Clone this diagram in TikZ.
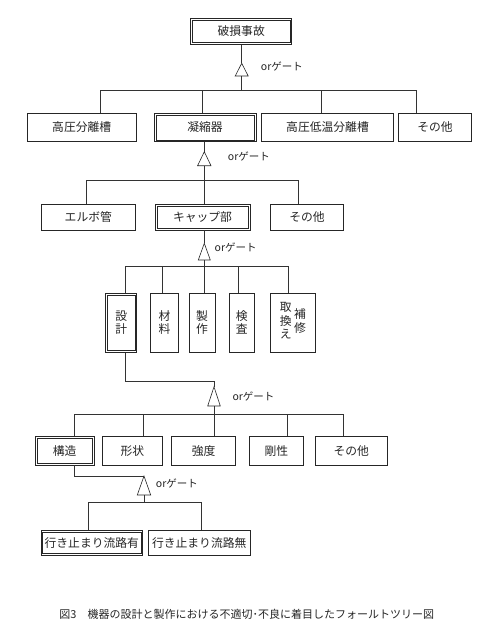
\documentclass[tikz,border=0pt]{standalone}
\usepackage{fontspec}
\setmainfont{Noto Sans CJK JP}
\tikzset{
  box/.style={draw=black!85, line width=0.6pt, fill=white, inner sep=0pt,
    font=\fontsize{11.8}{13}\selectfont, text=black!85, align=center},
  dbox/.style={box, line width=0.8pt},
  link/.style={draw=black!80, line width=0.6pt},
  innerline/.style={draw=black!85, line width=0.6pt},
  gatestyle/.style={draw=black!85, line width=0.6pt, fill=white},
  gatelabel/.style={anchor=west, inner sep=0pt, font=\fontsize{10.5}{12}\selectfont, text=black!85},
}
\newcommand{\orgate}[5]{%
  \coordinate (#1a) at (#2,#3);
  \coordinate (#1b) at (#2,#4);
  \draw[gatestyle] (#1a) -- ([xshift=-#5pt]#1b) -- ([xshift=#5pt]#1b) -- cycle;
}
\newcommand{\innerframe}[1]{%
  \draw[innerline] ([shift={(2.2pt,-2.2pt)}]#1.north west) rectangle ([shift={(-2.2pt,2.2pt)}]#1.south east);
}
\begin{document}
\begin{tikzpicture}[x=1pt,y=-1pt]
\useasboundingbox (0,0) rectangle (495,637);

% level 1
\node[dbox, minimum width=101, minimum height=26] (top) at (241.2,31.3) {破損事故};
\innerframe{top}
\orgate{g1}{241.7}{63.3}{76}{6.5}
\node[gatelabel] (g1l) at (260.7,66) {orゲート};
\coordinate (bus1) at (241.7,90.7);
\draw[link] (top.south -| g1a) -- (g1a);
\draw[link] (g1b) -- (bus1);

% level 2
\node[box, minimum width=108.7, minimum height=28.4] (hb1) at (81.7,127.5) {高圧分離槽};
\node[dbox, minimum width=102, minimum height=28.4] (cond) at (205,127.5) {凝縮器};
\innerframe{cond}
\node[box, minimum width=131.6, minimum height=28.4] (hb2) at (327.5,127.5) {高圧低温分離槽};
\node[box, minimum width=73.4, minimum height=28.4] (oth1) at (435,127.5) {その他};
\draw[link] ([xshift=18.3pt]hb1.north) |- (bus1);
\draw[link] ([xshift=-2.3pt]cond.north) |- (bus1);
\draw[link] ([xshift=-6.5pt]hb2.north) |- (bus1);
\draw[link] ([xshift=-19pt]oth1.north) |- (bus1);

\orgate{g2}{204.3}{151.7}{165.7}{6.7}
\node[gatelabel] (g2l) at (227.7,156.7) {orゲート};
\coordinate (bus2) at (204.3,180);
\draw[link] (cond.south -| g2a) -- (g2a);
\draw[link] (g2b) -- (bus2);

% level 3
\node[box, minimum width=93.3, minimum height=26] (elbow) at (88.3,217) {エルボ管};
\node[dbox, minimum width=95, minimum height=26] (cap) at (202.5,217) {キャップ部};
\innerframe{cap}
\node[box, minimum width=72.6, minimum height=26] (oth2) at (307,217) {その他};
\draw[link] ([xshift=-1.6pt]elbow.north) |- (bus2);
\draw[link] ([xshift=1.8pt]cap.north) |- (bus2);
\draw[link] ([xshift=-8.7pt]oth2.north) |- (bus2);

\orgate{g3}{204.3}{243.3}{260}{6}
\node[gatelabel] (g3l) at (214.5,247.3) {orゲート};
\coordinate (bus3) at (204.3,266);
\draw[link] (cap.south -| g3a) -- (g3a);
\draw[link] (g3b) -- (bus3);

% level 4
\node[dbox, minimum width=31, minimum height=59] (sekkei) at (121.2,322.8) {設\\計};
\innerframe{sekkei}
\node[box, minimum width=27.6, minimum height=59] (zairyo) at (164.5,322.8) {材\\料};
\node[box, minimum width=26, minimum height=59] (seisaku) at (202,322.8) {製\\作};
\node[box, minimum width=24.7, minimum height=59] (kensa) at (241.7,322.8) {検\\査};
\node[box, minimum width=44.3, minimum height=59] (hoshu) at (292.8,322.8)
  {\begin{tabular}[c]{@{}c@{}}取\\換\\え\end{tabular}\hspace{2.5pt}\begin{tabular}[c]{@{}c@{}}補\\修\end{tabular}};
\draw[link] ([xshift=3.8pt]sekkei.north) |- (bus3);
\draw[link] ([xshift=-2.2pt]zairyo.north) |- (bus3);
\draw[link] ([xshift=2.3pt]seisaku.north) |- (bus3);
\draw[link] ([xshift=-3.4pt]kensa.north) |- (bus3);
\draw[link] ([xshift=-4.5pt]hoshu.north) |- (bus3);

\orgate{g4}{214}{386.7}{406}{6.3}
\node[gatelabel] (g4l) at (232.3,396) {orゲート};
\coordinate (g4top) at (214,381.7);
\coordinate (bus4) at (214,414.3);
\draw[link] ([xshift=3.8pt]sekkei.south) |- (g4top) -- (g4a);
\draw[link] (g4b) -- (bus4);

% level 5
\node[dbox, minimum width=59.3, minimum height=28.3] (kozo) at (64.7,450.8) {構造};
\innerframe{kozo}
\node[box, minimum width=60, minimum height=28.3] (keijo) at (132.3,450.8) {形状};
\node[box, minimum width=64, minimum height=28.3] (kyodo) at (203.7,450.8) {強度};
\node[box, minimum width=54, minimum height=28.3] (gosei) at (276.3,450.8) {剛性};
\node[box, minimum width=72.7, minimum height=28.3] (oth3) at (351.3,450.8) {その他};
\draw[link] ([xshift=9.3pt]kozo.north) |- (bus4);
\draw[link] ([xshift=11pt]keijo.north) |- (bus4);
\draw[link] ([xshift=10.6pt]kyodo.north) |- (bus4);
\draw[link] ([xshift=11pt]gosei.north) |- (bus4);
\draw[link] ([xshift=-8pt]oth3.north) |- (bus4);

\orgate{g5}{144}{476}{495}{6.7}
\node[gatelabel] (g5l) at (155.7,483.3) {orゲート};
\coordinate (bus5) at (144,502.7);
\draw[link] ([xshift=9.3pt]kozo.south) |- (g5a);
\draw[link] (g5b) -- (bus5);

% level 6
\node[dbox, minimum width=101.7, minimum height=24.3] (yes) at (91.8,542.8) {行き止まり流路有};
\innerframe{yes}
\node[box, minimum width=101.7, minimum height=24.3] (no) at (199.2,542.8) {行き止まり流路無};
\draw[link] ([xshift=-3.1pt]yes.north) |- (bus5);
\draw[link] ([xshift=2.5pt]no.north) |- (bus5);

% caption
\node[inner sep=0pt, font=\fontsize{11}{13}\selectfont, text=black!85] (cap3) at (246.7,614)
  {図3　機器の設計と製作における不適切･不良に着目したフォールトツリー図};
\end{tikzpicture}
\end{document}
